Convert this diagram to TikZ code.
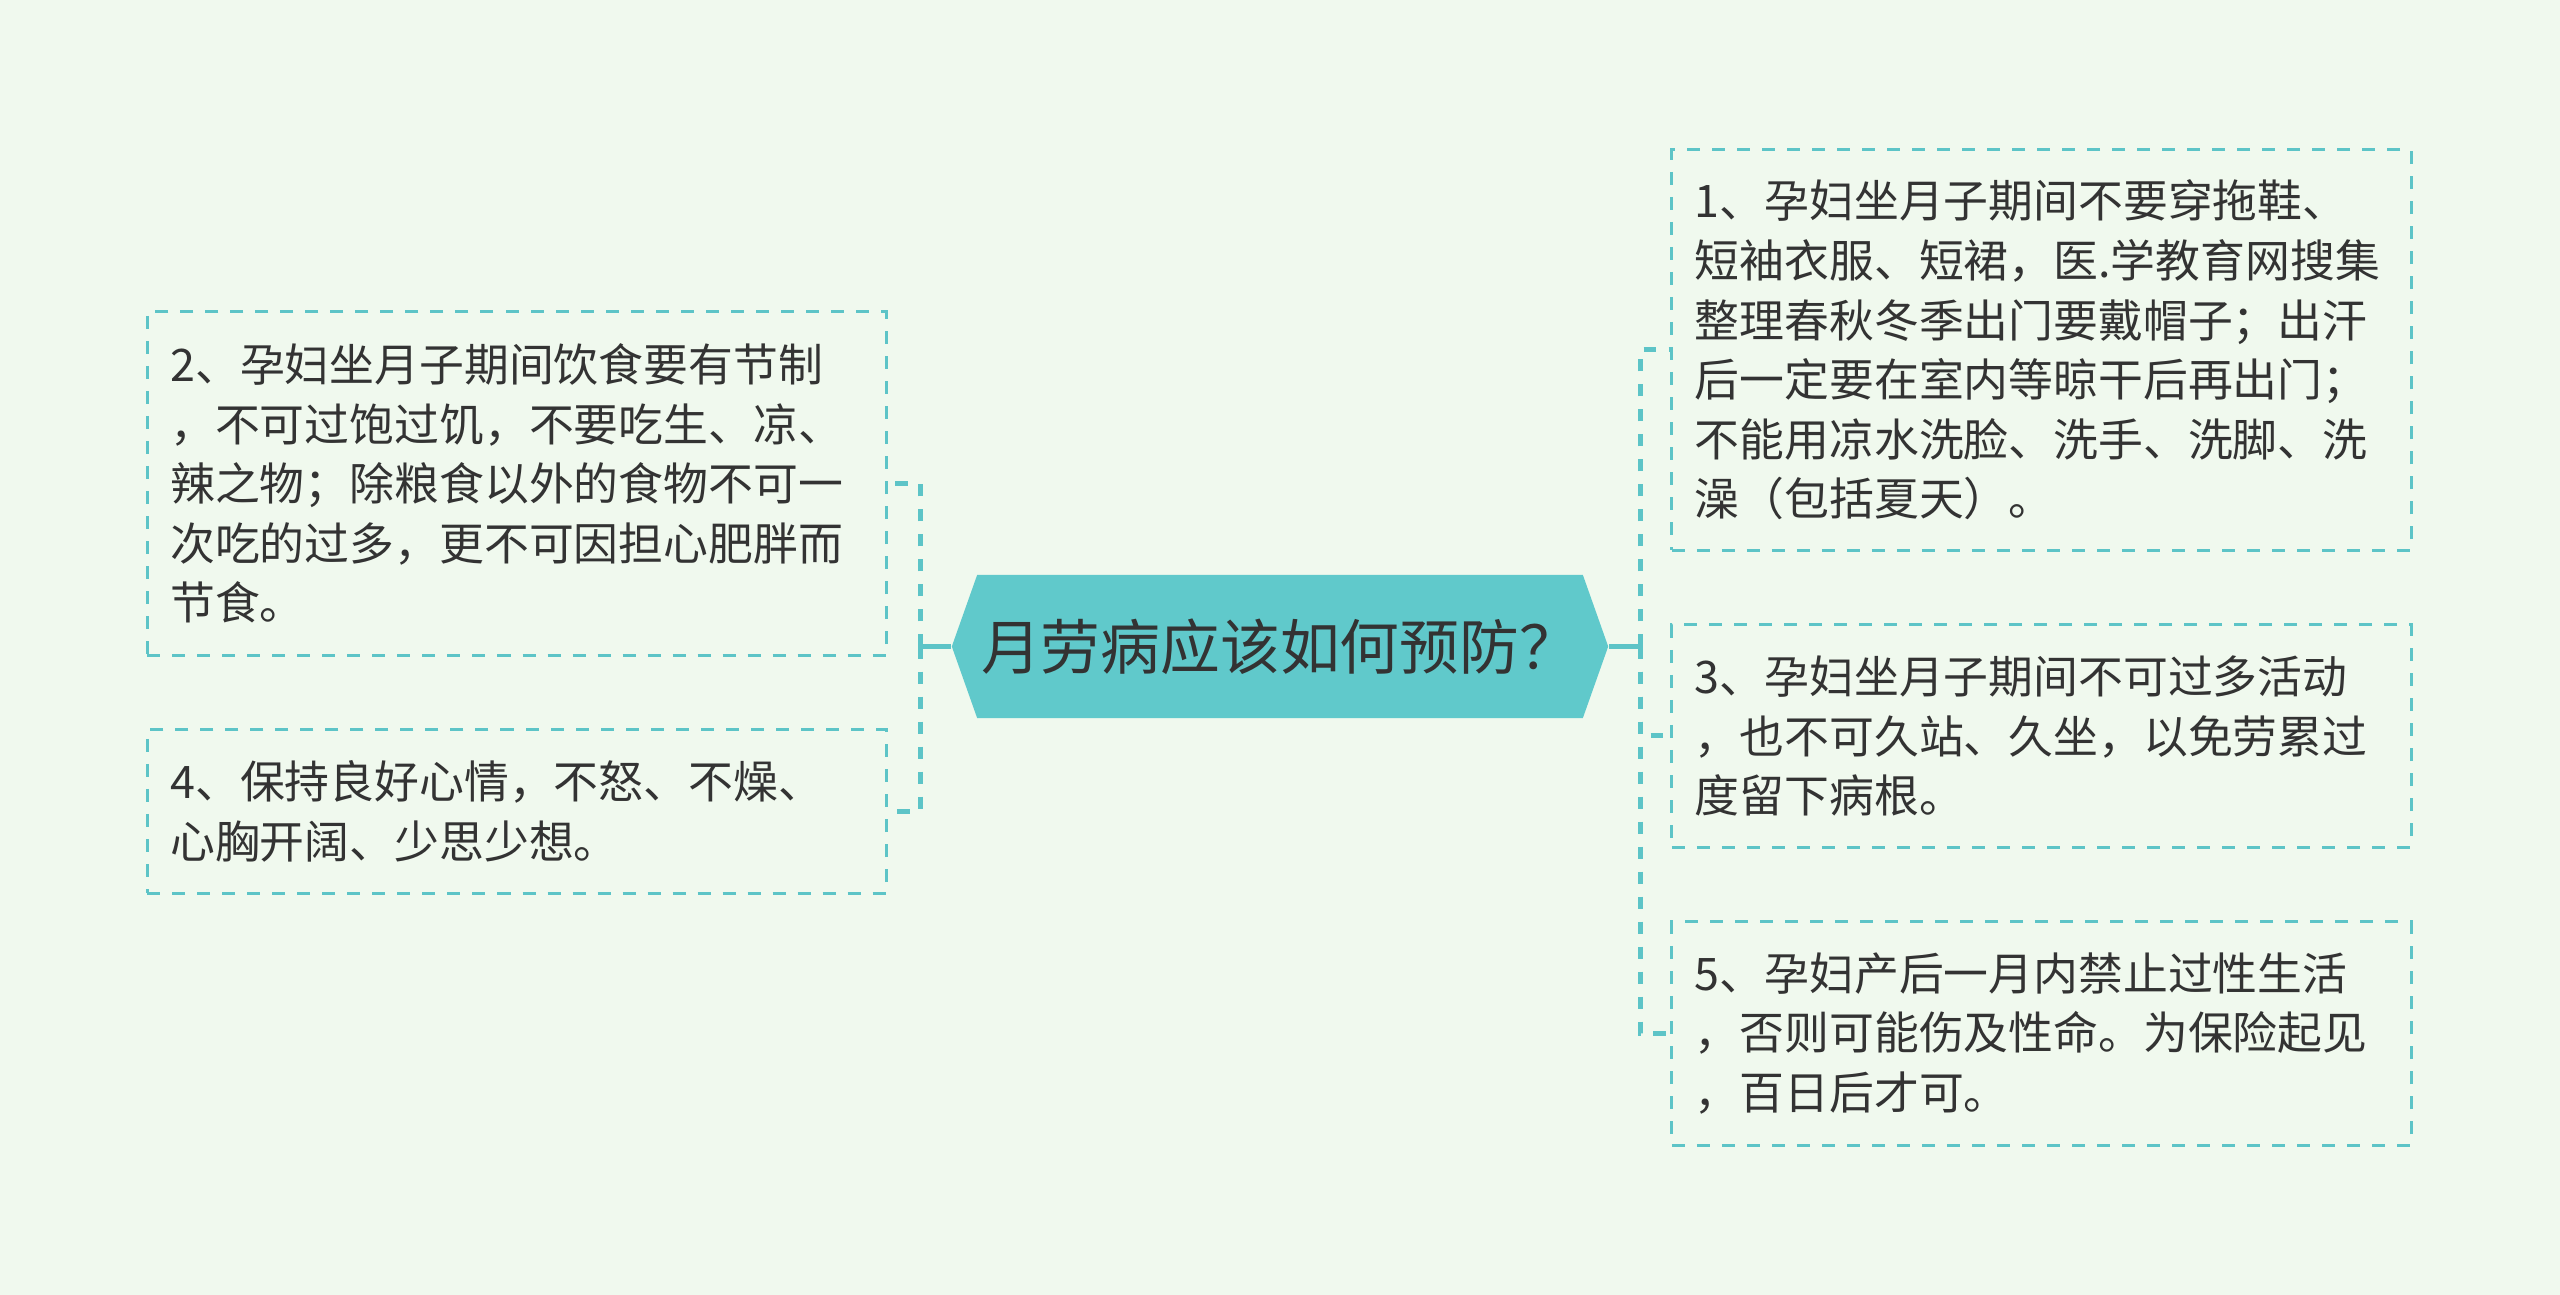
\documentclass[tikz,border=0pt]{standalone}
\usepackage{fontspec}
\newfontfamily\cjk{Noto Sans CJK SC}
\usetikzlibrary{shapes.symbols}
\usetikzlibrary{positioning}

\definecolor{bgmint}{HTML}{F0F9EE}
\definecolor{hexfill}{HTML}{60C9CB}
\definecolor{linecol}{HTML}{5DC4C7}
\definecolor{textgray}{HTML}{333333}

\begin{document}
\begin{tikzpicture}
[x=0.01cm,y=-0.01cm,
tipbox/.style={draw=linecol,line width=0.03cm,dash pattern=on 0.13cm off 0.12cm,
  text width=6.93cm,inner xsep=0.23cm,inner ysep=0pt,align=left,text=textgray,
  font=\cjk\fontsize{12.75pt}{16.93pt}\selectfont},
trunk/.style={draw=linecol,line width=0.05cm,dash pattern=on 0.125cm off 0.125cm},
stem/.style={draw=linecol,line width=0.05cm}]

\fill[bgmint] (0,0) rectangle (2560,1295);

% centre
\node[signal,signal to=east and west,signal pointer angle=141,fill=hexfill,
  minimum width=6.56cm,minimum height=1.43cm,inner sep=0pt,text=textgray,
  font=\cjk\fontsize{17pt}{20pt}\selectfont] (Center) at (1280,646.5) {月劳病应该如何预防？};

% right side
\node[tipbox,minimum height=4cm] (TipOne) at (2041.5,350)
  {1、孕妇坐月子期间不要穿拖鞋、\\短袖衣服、短裙，医.学教育网搜集\\整理春秋冬季出门要戴帽子；出汗\\后一定要在室内等晾干后再出门；\\不能用凉水洗脸、洗手、洗脚、洗\\澡（包括夏天）。};
\node[tipbox,minimum height=2.22cm] (TipThree) at (2041.5,736)
  {3、孕妇坐月子期间不可过多活动\\，也不可久站、久坐，以免劳累过\\度留下病根。};
\node[tipbox,minimum height=2.23cm] (TipFive) at (2041.5,1033.5)
  {5、孕妇产后一月内禁止过性生活\\，否则可能伤及性命。为保险起见\\，百日后才可。};

% left side
\node[tipbox,minimum height=3.43cm] (TipTwo) at (517,483.5)
  {2、孕妇坐月子期间饮食要有节制\\，不可过饱过饥，不要吃生、凉、\\辣之物；除粮食以外的食物不可一\\次吃的过多，更不可因担心肥胖而\\节食。};
\node[tipbox,minimum height=1.63cm] (TipFour) at (517,811.5)
  {4、保持良好心情，不怒、不燥、\\心胸开阔、少思少想。};

\coordinate (RightFork) at (1640,646.5);
\coordinate (LeftFork) at (920,646.5);

\draw[stem] (Center.east) -- (RightFork);
\draw[stem] (Center.west) -- (LeftFork);
\draw[trunk] (RightFork) |- (TipOne.west);
\draw[trunk] (RightFork) |- (TipThree.west);
\draw[trunk] (RightFork) |- (TipFive.west);
\draw[trunk] (LeftFork) |- (TipTwo.east);
\draw[trunk] (LeftFork) |- (TipFour.east);
\end{tikzpicture}
\end{document}
